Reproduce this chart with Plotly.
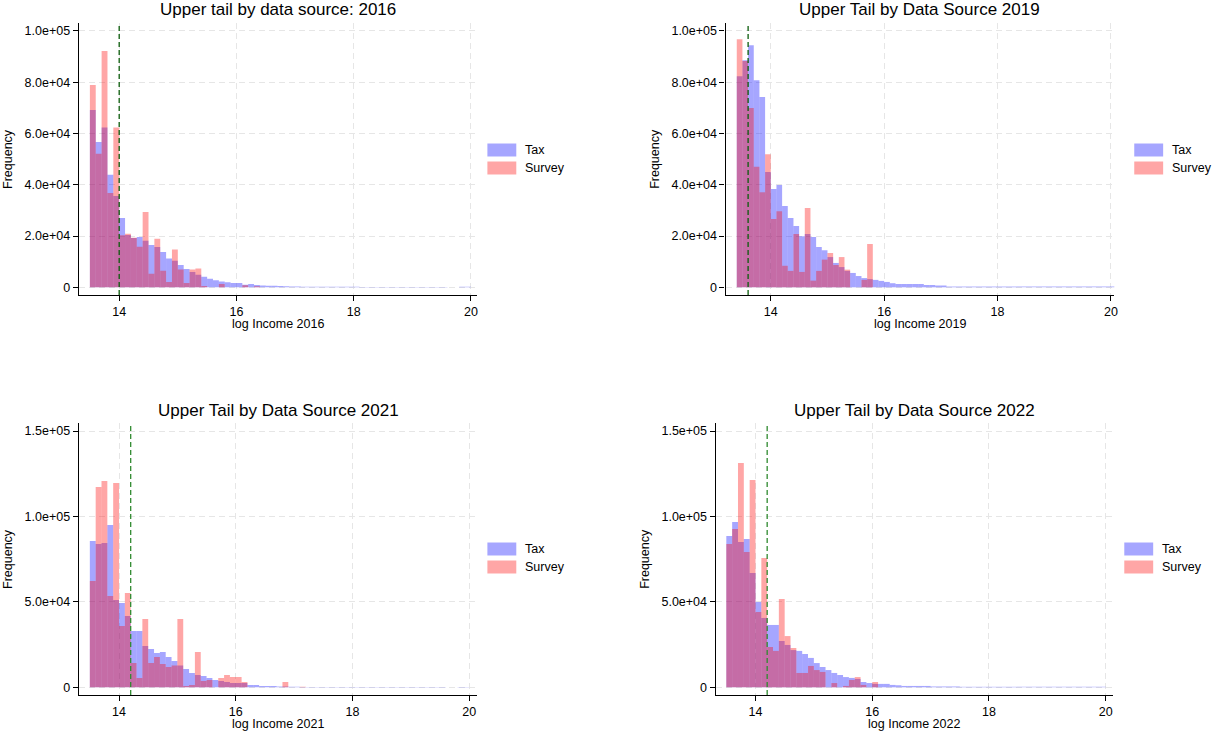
import numpy as np
import plotly.graph_objects as go

# ---------------- data (frequencies in thousands) ----------------
years = ["2016", "2019", "2021", "2022"]
titles = ["Upper tail by data source: 2016", "Upper Tail by Data Source 2019",
          "Upper Tail by Data Source 2021", "Upper Tail by Data Source 2022"]
x_titles = ["log Income 2016", "log Income 2019", "log Income 2021", "log Income 2022"]
bin_width = 0.1
bin_start = [13.5, 13.4, 13.5, 13.5]
cutoffs = [14.0, 13.6, 14.2, 14.2]

tax_2016 = [69.2, 56.7, 62.3, 43.9, 35.6, 27.0, 20.4, 19.2, 19.6, 18.2,
            16.5, 15.7, 13.8, 11.2, 10.4, 8.7, 7.1, 6.0, 4.9, 4.1,
            3.3, 2.8, 2.3, 2.0, 1.7, 1.7, 1.0, 1.3, 0.9, 0.7,
            0.6, 0.6, 0.5, 0.4, 0.3, 0.3, 0.2, 0.2, 0.2, 0.2,
            0.2, 0.2, 0.2, 0.2, 0.2, 0.2, 0.15, 0.15, 0.15, 0.15,
            0.15, 0.15, 0.15, 0.15, 0.15, 0.15, 0.15, 0.15, 0.15, 0.15,
            0.15, 0.0, 0.0, 0.2, 0.2]
survey_2016 = [78.9, 52.1, 92.2, 36.8, 62.3, 20.3, 20.9, 19.3, 15.8, 29.4,
               5.3, 18.9, 6.5, 2.1, 14.7, 6.9, 1.7, 6.9, 7.3, 0.5,
               0.0, 0.0, 1.3, 0.0, 0.0, 0.0, 0.8, 0.0, 0.4]

tax_2019 = [82.3, 88.6, 94.4, 80.8, 74.2, 45.0, 38.3, 39.9, 31.7, 27.0,
            23.9, 19.9, 20.8, 19.6, 15.7, 14.5, 11.8, 9.5, 7.9, 6.4,
            5.6, 4.4, 3.6, 3.2, 2.9, 2.5, 2.1, 1.6, 1.3, 1.3,
            1.3, 1.3, 1.3, 0.9, 0.9, 0.7, 0.7, 0.3, 0.3, 0.3,
            0.3, 0.3, 0.3, 0.3, 0.3, 0.3, 0.3, 0.3, 0.3, 0.3,
            0.3, 0.3, 0.3, 0.3, 0.3, 0.3, 0.3, 0.3, 0.3, 0.3,
            0.3, 0.3, 0.3, 0.3, 0.3, 0.3, 0.3]
survey_2019 = [96.8, 88.3, 69.9, 47.0, 37.1, 51.9, 26.6, 29.7, 8.4, 6.4,
               20.8, 6.0, 30.9, 2.6, 6.4, 10.8, 13.4, 8.7, 11.8, 6.9,
               0.0, 0.0, 2.9, 16.9]

tax_2021 = [85.6, 83.9, 84.5, 95.0, 51.1, 49.4, 41.7, 33.0, 33.0, 24.2,
            22.4, 20.1, 20.7, 17.8, 15.4, 12.7, 10.7, 8.4, 7.2, 6.6,
            5.5, 4.3, 3.7, 3.1, 2.5, 2.5, 2.5, 1.4, 1.4, 0.8,
            0.8, 0.8, 0.5, 0.5, 0.4, 0.4, 0.2, 0.2, 0.2, 0.2,
            0.2, 0.2, 0.2, 0.2, 0.2, 0.2, 0.2, 0.2, 0.2, 0.2,
            0.2, 0.2, 0.2, 0.2, 0.2, 0.2, 0.2, 0.2, 0.2, 0.2,
            0.2, 0.0, 0.0, 0.2, 0.2]
survey_2021 = [62.2, 117.2, 120.7, 53.4, 119.6, 35.9, 55.2, 14.2, 5.5, 40.0,
               14.2, 17.8, 13.7, 11.9, 12.7, 40.0, 0.8, 1.4, 20.7, 3.7,
               4.3, 0.0, 5.5, 7.2, 6.0, 6.0, 3.1, 0.0, 0.0, 0.0,
               0.0, 0.0, 0.0, 3.1, 0.0, 0.0, 0.3]

tax_2022 = [88.6, 96.7, 85.0, 86.8, 66.9, 49.9, 40.6, 36.5, 36.5, 27.1,
            24.8, 21.8, 21.3, 19.5, 17.2, 14.2, 11.9, 10.1, 8.4, 7.2,
            6.0, 5.5, 4.9, 3.1, 2.5, 2.0, 2.0, 2.0, 1.4, 1.2,
            0.8, 0.8, 0.8, 0.8, 0.8, 0.5, 0.5, 0.5, 0.5, 0.5,
            0.3, 0.3, 0.3, 0.3, 0.3, 0.3, 0.3, 0.3, 0.3, 0.3,
            0.3, 0.3, 0.3, 0.3, 0.3, 0.3, 0.3, 0.3, 0.3, 0.3,
            0.3, 0.3, 0.3, 0.3, 0.3]
survey_2022 = [83.9, 92.7, 131.3, 79.2, 121.3, 44.1, 75.7, 23.6, 21.3, 51.7,
               30.0, 23.0, 8.4, 8.4, 12.5, 10.1, 9.0, 0.0, 2.5, 0.0,
               0.8, 4.3, 6.0, 1.4, 0.0, 3.1]

tax_series = [tax_2016, tax_2019, tax_2021, tax_2022]
survey_series = [survey_2016, survey_2019, survey_2021, survey_2022]

ytick_small = [0, 20000, 40000, 60000, 80000, 100000]
ytext_small = ["0", "2.0e+04", "4.0e+04", "6.0e+04", "8.0e+04", "1.0e+05"]
ytick_large = [0, 50000, 100000, 150000]
ytext_large = ["0", "5.0e+04", "1.0e+05", "1.5e+05"]
xticks = [14, 16, 18, 20]

# ---------------- layout geometry (pixels) ----------------
W, H = 1212, 734
panels = [  # x0, x1, y_top, y_bottom (px)
    (79, 479, 23, 295),
    (728, 1118, 23, 295),
    (79, 479, 423, 695),
    (718, 1117, 423, 695),
]
x_ranges = [[13.31, 20.11], [13.203, 20.06], [13.31, 20.14], [13.317, 20.13]]
y_ranges = [[-3000, 103100], [-3000, 103100], [-4500, 154700], [-4500, 154700]]
legend_pos = [(489, 150), (1138, 150), (489, 549), (1128, 549)]
cut_colors = ["#0a5c0a", "#0a5c0a", "#2f8a2f", "#2f8a2f"]

TAX_COLOR = "rgba(0,0,255,0.35)"
SUR_COLOR = "rgba(255,0,0,0.35)"
FONT = "Liberation Sans, Arial, sans-serif"

def px_x(p):
    return p / W

def px_y(p):
    return 1 - p / H

fig = go.Figure()
annotations = []
shapes = []
layout_axes = {}

for i in range(4):
    sfx = "" if i == 0 else str(i + 1)
    xa, ya = "x" + sfx, "y" + sfx
    start = bin_start[i]
    tax = np.array(tax_series[i]) * 1000
    sur = np.array(survey_series[i]) * 1000
    tax_x = start + bin_width * (np.arange(len(tax)) + 0.5)
    sur_x = start + bin_width * (np.arange(len(sur)) + 0.5)
    fig.add_trace(go.Bar(x=tax_x, y=tax, width=bin_width, name="Tax",
                         marker=dict(color=TAX_COLOR, line=dict(width=0)),
                         xaxis=xa, yaxis=ya, showlegend=False))
    fig.add_trace(go.Bar(x=sur_x, y=sur, width=bin_width, name="Survey",
                         marker=dict(color=SUR_COLOR, line=dict(width=0)),
                         xaxis=xa, yaxis=ya, showlegend=False))

    x0, x1, yt, yb = panels[i]
    small = i < 2
    layout_axes["xaxis" + sfx] = dict(
        domain=[px_x(x0), px_x(x1)], anchor=ya, range=x_ranges[i],
        tickvals=xticks, ticktext=[str(t) for t in xticks],
        ticks="outside", ticklen=5, tickcolor="black", tickwidth=1,
        showline=True, linecolor="black", linewidth=1.2,
        showgrid=True, gridcolor="#e6e6e6", griddash="6px,4px", gridwidth=1,
        zeroline=False, tickfont=dict(family=FONT, size=12.5, color="black"),
    )
    layout_axes["yaxis" + sfx] = dict(
        domain=[px_y(yb), px_y(yt)], anchor=xa, range=y_ranges[i],
        tickvals=ytick_small if small else ytick_large,
        ticktext=ytext_small if small else ytext_large,
        ticks="outside", ticklen=5, tickcolor="black", tickwidth=1,
        showline=True, linecolor="black", linewidth=1.2,
        showgrid=True, gridcolor="#e6e6e6", griddash="6px,4px", gridwidth=1,
        zeroline=False, tickfont=dict(family=FONT, size=12.5, color="black"),
    )

    # cutoff line
    shapes.append(dict(type="line", xref=xa, yref=ya + " domain",
                       x0=cutoffs[i], x1=cutoffs[i], y0=0, y1=1,
                       line=dict(color=cut_colors[i], width=1.3, dash="5px,3px")))

    cx = (x0 + x1) / 2
    # title
    annotations.append(dict(text=titles[i], xref="paper", yref="paper",
                            x=px_x(cx), y=px_y(yt - 13), xanchor="center", yanchor="middle",
                            showarrow=False, font=dict(family=FONT, size=17, color="black")))
    # x title
    annotations.append(dict(text=x_titles[i], xref="paper", yref="paper",
                            x=px_x(cx), y=px_y(yb + 29), xanchor="center", yanchor="middle",
                            showarrow=False, font=dict(family=FONT, size=12.5, color="black")))
    # y title
    annotations.append(dict(text="Frequency", xref="paper", yref="paper",
                            x=px_x(x0 - 71), y=px_y((yt + yb) / 2), xanchor="center",
                            yanchor="middle", textangle=-90,
                            showarrow=False, font=dict(family=FONT, size=12.5, color="black")))
    # legend
    lx, ly = legend_pos[i]
    for j, (lab, col) in enumerate([("Tax", TAX_COLOR), ("Survey", SUR_COLOR)]):
        yc = ly + 18 * j
        shapes.append(dict(type="rect", xref="paper", yref="paper",
                           x0=px_x(lx), x1=px_x(lx + 29), y0=px_y(yc + 6.5), y1=px_y(yc - 6.5),
                           fillcolor=col, line=dict(width=0)))
        annotations.append(dict(text=lab, xref="paper", yref="paper",
                                x=px_x(lx + 36), y=px_y(yc), xanchor="left", yanchor="middle",
                                showarrow=False, font=dict(family=FONT, size=12.5, color="black")))

fig.update_layout(
    width=W, height=H, margin=dict(l=0, r=0, t=0, b=0),
    paper_bgcolor="white", plot_bgcolor="white",
    barmode="overlay", showlegend=False,
    annotations=annotations, shapes=shapes,
    font=dict(family=FONT, size=12, color="black"),
    **layout_axes,
)

fig.write_html("out.html", config={"displayModeBar": False},
               post_script="document.body.style.margin='0';document.body.style.overflow='hidden';")
